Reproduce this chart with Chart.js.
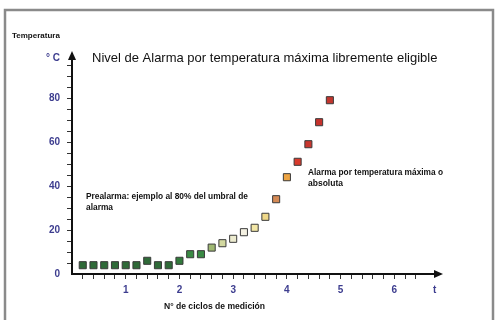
<!DOCTYPE html>
<html>
<head>
<meta charset="utf-8">
<script src="https://cdn.jsdelivr.net/npm/chart.js@4"></script>
<style>
  html, body { margin: 0; padding: 0; background: #fff; }
  #wrap { width: 495px; height: 320px; }
</style>
</head>
<body>
<div id="wrap"><canvas id="tempChart" width="495" height="320"></canvas></div>
<script>
// measurement cycles (x) and temperature in °C (y)
var cycles = [0.2, 0.4, 0.6, 0.8, 1.0, 1.2, 1.4, 1.6, 1.8, 2.0, 2.2, 2.4,
              2.6, 2.8, 3.0, 3.2, 3.4, 3.6, 3.8, 4.0, 4.2, 4.4, 4.6, 4.8];
var temps = [4, 4, 4, 4, 4, 4, 6, 4, 4, 6, 9, 9,
             12, 14, 16, 19, 21, 26, 34, 44, 51, 59, 69, 79];
var pointColors = ['#2f6a38', '#2f6a38', '#2f6a38', '#2f6a38', '#2f6a38', '#2f6a38',
                   '#2f6a38', '#2f6a38', '#2f6a38', '#327a3c', '#3a8a44', '#3a8a44',
                   '#9fb872', '#d2d8a0', '#ecebcf', '#f4f1e2', '#f3e7a6', '#efd889',
                   '#d58a55', '#eda443', '#d83a2c', '#c9362e', '#c6322c', '#c2362e'];
var xTickValues = [0.2, 0.4, 0.6, 0.8, 1, 1.2, 1.4, 1.6, 1.8, 2, 2.2, 2.4, 2.6, 2.8, 3,
                   3.2, 3.4, 3.6, 3.8, 4, 4.2, 4.4, 4.6, 4.8, 5, 5.2, 5.4, 5.6, 5.8, 6,
                   6.2, 6.4];
var yTickValues = [0, 5, 10, 15, 20, 25, 30, 35, 40, 45, 50, 55, 60, 65, 70, 75, 80, 85, 90, 95];
var yLabels = {0: '0', 20: '20', 40: '40', 60: '60', 80: '80'};

var labelBlue = '#3d3d8f';
var textFont = '"Liberation Sans Narrow", "Liberation Sans", Arial, sans-serif';

// texts, frame and arrow heads
var decorations = {
  id: 'decorations',
  beforeDraw: function(chart) {
    var ctx = chart.ctx;
    ctx.save();
    ctx.fillStyle = '#ffffff';
    ctx.fillRect(0, 0, chart.width, chart.height);
    ctx.strokeStyle = '#8a8a8a';
    ctx.lineWidth = 2.5;
    ctx.strokeRect(5, 10, 488, 330);
    ctx.restore();
  },
  afterDraw: function(chart) {
    var ctx = chart.ctx;
    var xs = chart.scales.x, ys = chart.scales.y;
    var ox = xs.left, oy = ys.bottom;
    ctx.save();
    ctx.fillStyle = '#111';
    // arrow on the y axis
    ctx.beginPath();
    ctx.moveTo(ox, ys.top - 3);
    ctx.lineTo(ox - 4, ys.top + 6);
    ctx.lineTo(ox + 4, ys.top + 6);
    ctx.closePath();
    ctx.fill();
    // arrow on the x axis
    ctx.beginPath();
    ctx.moveTo(xs.right + 3, oy);
    ctx.lineTo(xs.right - 6, oy - 4);
    ctx.lineTo(xs.right - 6, oy + 4);
    ctx.closePath();
    ctx.fill();

    ctx.textBaseline = 'middle';
    ctx.textAlign = 'left';
    ctx.fillStyle = '#111';
    ctx.font = 'bold 8px ' + textFont;
    ctx.fillText('Temperatura', 12, 36, 51);

    ctx.font = '13px "Liberation Sans", Arial, sans-serif';
    ctx.fillText('Nivel de Alarma por temperatura máxima libremente eligible', 92, 58, 348);

    ctx.font = 'bold 9px ' + textFont;
    ctx.fillText('Prealarma: ejemplo al 80% del umbral de', 86, 197, 162);
    ctx.fillText('alarma', 86, 208, 27);
    ctx.fillText('Alarma por temperatura máxima o', 308, 173, 135);
    ctx.fillText('absoluta', 308, 184, 35);
    ctx.fillText('N° de ciclos de medición', 164, 307, 101);
    ctx.restore();
  }
};

new Chart(document.getElementById('tempChart').getContext('2d'), {
  type: 'scatter',
  data: {
    datasets: [{
      data: cycles.map(function(c, i) { return {x: c, y: temps[i]}; }),
      pointStyle: 'rect',
      pointRadius: 5,
      pointHoverRadius: 5,
      pointBackgroundColor: pointColors,
      pointBorderColor: '#3a3a3a',
      pointBorderWidth: 1
    }]
  },
  options: {
    responsive: false,
    animation: false,
    layout: { padding: { top: 54, right: 55, left: 0, bottom: 0 } },
    plugins: {
      legend: { display: false },
      title: { display: false },
      tooltip: { enabled: false }
    },
    scales: {
      x: {
        type: 'linear',
        min: 0,
        max: 6.85,
        afterBuildTicks: function(scale) {
          var t = xTickValues.map(function(v) { return {value: v}; });
          t.push({value: 6.75});
          scale.ticks = t;
        },
        afterFit: function(scale) { scale.height = 46; },
        ticks: {
          autoSkip: false,
          maxRotation: 0,
          padding: 5,
          color: labelBlue,
          font: { family: 'Arial, "Liberation Sans", sans-serif', size: 10, weight: 'bold' },
          callback: function(value) {
            if (value > 6.5) return 't';
            if (Math.abs(value - Math.round(value)) < 1e-6) return String(Math.round(value));
            return '';
          }
        },
        grid: {
          drawOnChartArea: false,
          drawTicks: true,
          tickLength: 5,
          tickWidth: 1,
          tickColor: function(ctx) {
            return ctx.tick && ctx.tick.value > 6.5 ? 'rgba(0,0,0,0)' : '#333';
          }
        },
        border: { display: true, color: '#111', width: 2 }
      },
      y: {
        type: 'linear',
        min: 0,
        max: 100,
        afterBuildTicks: function(scale) {
          var t = yTickValues.map(function(v) { return {value: v}; });
          t.push({value: 98});
          scale.ticks = t;
        },
        afterFit: function(scale) { scale.width = 72; },
        ticks: {
          autoSkip: false,
          padding: 7,
          color: labelBlue,
          font: { family: 'Arial, "Liberation Sans", sans-serif', size: 10, weight: 'bold' },
          callback: function(value) {
            if (value === 98) return '° C';
            return yLabels[value] || '';
          }
        },
        grid: {
          drawOnChartArea: false,
          drawTicks: true,
          tickLength: 5,
          tickWidth: 1,
          tickColor: function(ctx) {
            return ctx.tick && (ctx.tick.value === 98 || ctx.tick.value === 0) ? 'rgba(0,0,0,0)' : '#333';
          }
        },
        border: { display: true, color: '#111', width: 2 }
      }
    }
  },
  plugins: [decorations]
});
</script>
</body>
</html>
